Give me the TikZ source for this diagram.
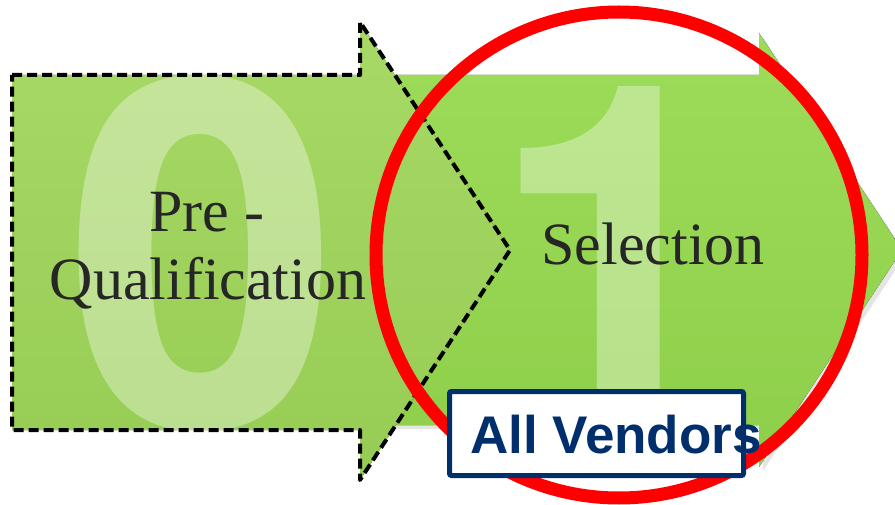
\documentclass[tikz,border=0pt]{standalone}
\usepackage{fontspec}
\setmainfont{Liberation Serif}
\newfontfamily\digitfont{Open Sans}
\newfontfamily\onefont{TeX Gyre Heros}
\newfontfamily\labelfont{Liberation Sans}
\definecolor{frontTop}{HTML}{A8D966}
\definecolor{frontBot}{HTML}{96CC54}
\definecolor{rearTop}{HTML}{9DDC59}
\definecolor{rearBot}{HTML}{8ECF4A}
\definecolor{navy}{HTML}{002F6C}
\definecolor{ink}{HTML}{262626}
\tikzset{
  digit/.style={font=\digitfont\bfseries\fontsize{486}{486}\selectfont,
    text=white, text opacity=0.35, inner sep=0pt, anchor=base},
  onedigit/.style={digit, font=\onefont\bfseries\fontsize{488}{488}\selectfont},
  stagetext/.style={font=\fontsize{60}{64}\selectfont, text=ink, inner sep=0pt, anchor=base},
  dashedoutline/.style={draw=black, line width=4pt, dash pattern=on 10pt off 5pt, line join=round},
  ring/.style={draw=red, line width=13pt},
  tagbox/.style={draw=navy, line width=5pt, fill=white, rounded corners=2pt},
  tagtext/.style={font=\labelfont\bfseries\fontsize{53}{56}\selectfont, text=navy, inner sep=0pt, anchor=base west}
}
\begin{document}
\begin{tikzpicture}[x=1pt,y=-1pt]
\useasboundingbox (0,0) rectangle (895,505);
% soft shadow under the rear arrow
\fill[black, opacity=0.10]
  (364,79) -- (763,79) -- (763,37) -- (906,254) -- (763,471) -- (763,429) -- (364,429) -- cycle;
% rear arrow (stage 1)
\fill[top color=rearTop, bottom color=rearBot]
  (360,75) -- (759,75) -- (759,33) -- (902,250) -- (759,467) -- (759,425) -- (360,425) -- cycle;
\node[onedigit] (one) at (615,432) {\scalebox{0.92}[1]{1}};
% front arrow (stage 0)
\fill[top color=frontTop, bottom color=frontBot]
  (12,75) -- (360,75) -- (360,22) -- (510,250) -- (360,480) -- (360,430) -- (12,430) -- cycle;
\node[digit] (zero) at (200,427) {0};
\draw[dashedoutline]
  (12,75) -- (360,75) -- (360,22) -- (510,250) -- (360,480) -- (360,430) -- (12,430) -- cycle;
% stage captions
\node[stagetext] (pre) at (207,232) {Pre -};
\node[stagetext] (qual) at (208,300) {Qualification};
\node[stagetext] (sel) at (653,265) {Selection};
% highlight ring
\node[ring, circle, minimum size=486pt, inner sep=0pt] (ringnode) at (619,255) {};
% tag
\node[tagbox, minimum width=294pt, minimum height=84pt, inner sep=0pt] (tag) at (596.5,433.5) {};
\node[tagtext] (tagtxt) at (470,453) {All Vendors};
\end{tikzpicture}
\end{document}
